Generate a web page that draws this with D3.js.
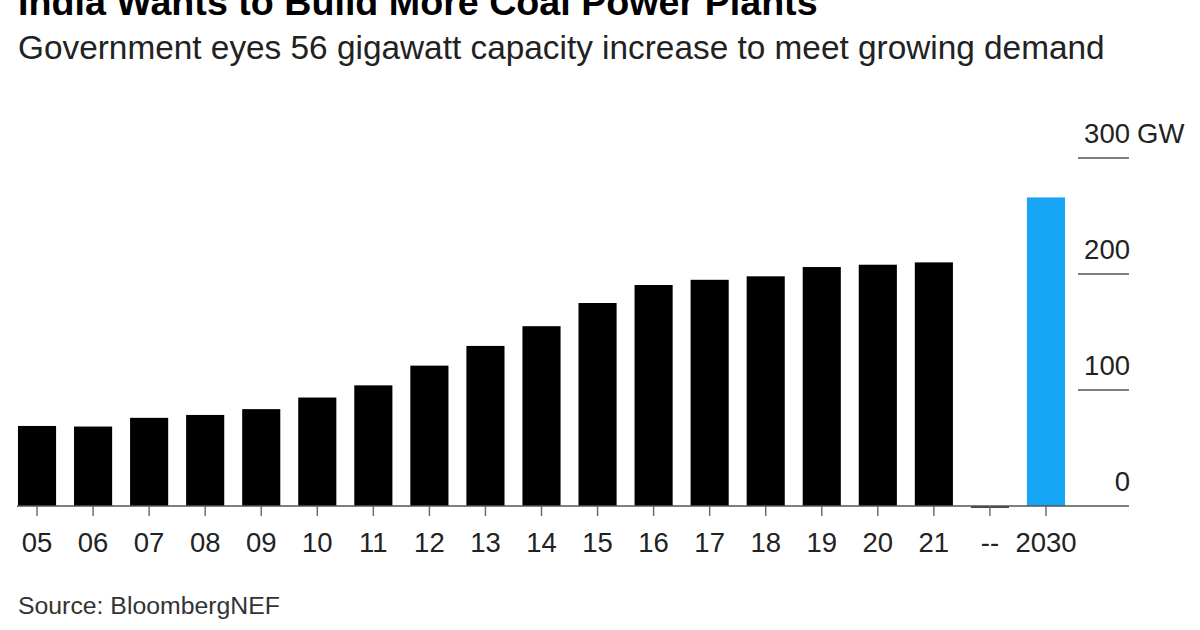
<!DOCTYPE html>
<html>
<head>
<meta charset="utf-8">
<script src="https://cdn.jsdelivr.net/npm/d3@7"></script>
<style>
  html, body { margin: 0; padding: 0; background: #fff; }
  svg { display: block; }
  text { font-family: "Liberation Sans", Arial, sans-serif; }
</style>
</head>
<body>
<svg id="chart" width="1200" height="630"></svg>
<script>
const title = "India Wants to Build More Coal Power Plants";
const subtitle = "Government eyes 56 gigawatt capacity increase to meet growing demand";
const source = "Source: BloombergNEF";

const categories = ["05","06","07","08","09","10","11","12","13","14","15","16","17","18","19","20","21","--","2030"];
const capacityGW = [69, 68.5, 76, 78.5, 83.5, 93.5, 104, 121, 138, 155, 175, 190.5, 195, 198, 206, 208, 210, -1, 266];
const highlighted = ["2030"];

const yTicks = [0, 100, 200, 300];
const yUnit = "GW";

const svg = d3.select("#chart");

function fitWidth(sel, size, target) {
  const w = sel.node().getComputedTextLength();
  if (w > 0) sel.attr("font-size", size * target / w);
}

// Title (cropped at the top of the image, as in the reference)
const t = svg.append("text")
  .attr("x", 18).attr("y", 15)
  .attr("font-weight", "bold")
  .attr("font-size", 34)
  .attr("fill", "#000")
  .text(title);
fitWidth(t, 34, 800);

const st = svg.append("text")
  .attr("x", 18).attr("y", 59)
  .attr("font-size", 28)
  .attr("fill", "#222")
  .text(subtitle);
fitWidth(st, 28, 1087);

const x = d3.scaleBand()
  .domain(categories)
  .range([9, 1074])
  .paddingInner(0.32)
  .paddingOuter(0.16);

const y = d3.scaleLinear()
  .domain([0, 300])
  .range([506, 158]);

// Bars
svg.append("g").selectAll("rect")
  .data(categories.map((c, i) => ({ c, v: capacityGW[i] })))
  .join("rect")
  .attr("x", d => x(d.c))
  .attr("width", x.bandwidth())
  .attr("y", d => Math.min(y(d.v), y(0)))
  .attr("height", d => Math.max(Math.abs(y(d.v) - y(0)), 2))
  .attr("fill", d => highlighted.includes(d.c) ? "#17a6f5" : (d.v < 0 ? "#444" : "#000"));

// Right axis: short tick lines with labels above
const yAxisX0 = 1078, yAxisX1 = 1129;
const axisFont = 27.5;
const yg = svg.append("g");
yg.selectAll("line.tick")
  .data(yTicks.filter(d => d !== 0))
  .join("line")
  .attr("x1", yAxisX0).attr("x2", yAxisX1)
  .attr("y1", d => y(d)).attr("y2", d => y(d))
  .attr("stroke", "#555").attr("stroke-width", 1.6);
yg.selectAll("text.lbl")
  .data(yTicks)
  .join("text")
  .attr("x", 1130)
  .attr("y", d => y(d) - 15)
  .attr("text-anchor", "end")
  .attr("font-size", axisFont)
  .attr("fill", "#222")
  .text(d => d3.format("d")(d));
yg.append("text")
  .attr("x", 1137)
  .attr("y", y(yTicks[yTicks.length - 1]) - 15)
  .attr("font-size", axisFont)
  .attr("fill", "#222")
  .text(yUnit);

// Baseline
svg.append("line")
  .attr("x1", 17).attr("x2", yAxisX1)
  .attr("y1", y(0)).attr("y2", y(0))
  .attr("stroke", "#555").attr("stroke-width", 1.6);

// X axis ticks and labels
const xg = svg.append("g");
xg.selectAll("line")
  .data(categories)
  .join("line")
  .attr("x1", d => x(d) + x.bandwidth() / 2)
  .attr("x2", d => x(d) + x.bandwidth() / 2)
  .attr("y1", y(0)).attr("y2", y(0) + 10)
  .attr("stroke", "#666").attr("stroke-width", 1.4);
xg.selectAll("text")
  .data(categories)
  .join("text")
  .attr("x", d => x(d) + x.bandwidth() / 2)
  .attr("y", 552)
  .attr("text-anchor", "middle")
  .attr("font-size", axisFont)
  .attr("fill", "#222")
  .text(d => d);

// Source
const src = svg.append("text")
  .attr("x", 18).attr("y", 614)
  .attr("font-size", 24)
  .attr("fill", "#333")
  .text(source);
fitWidth(src, 24, 262);
</script>
</body>
</html>
